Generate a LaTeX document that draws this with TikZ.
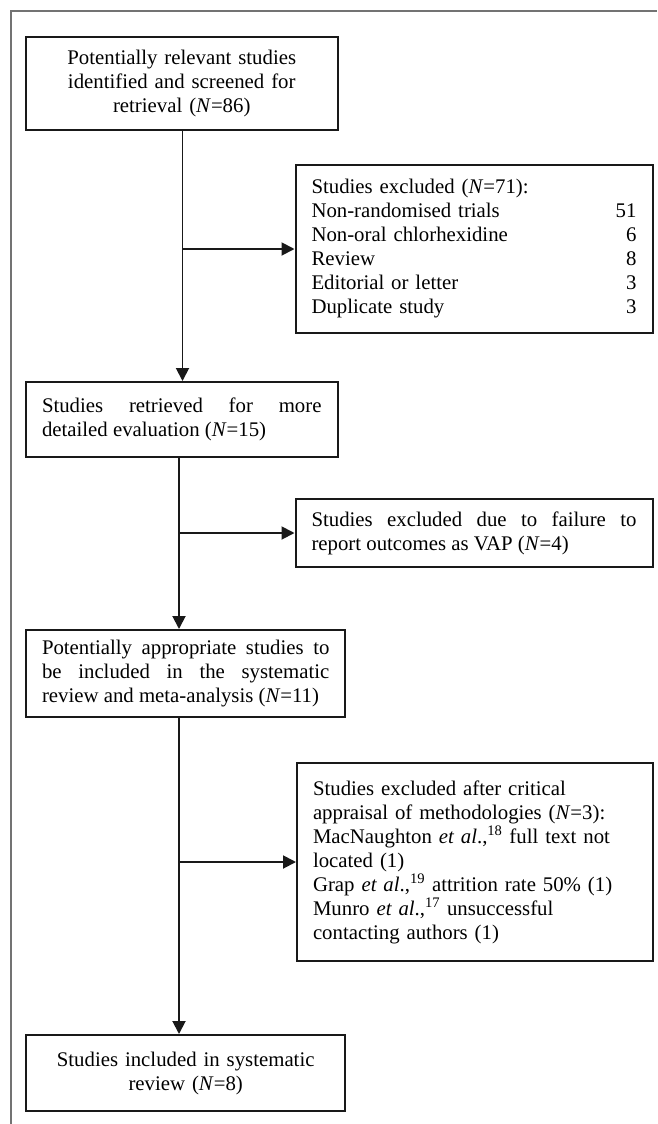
\documentclass[tikz,border=0pt]{standalone}
\usepackage{fontspec}
\setmainfont{Liberation Serif}
\usetikzlibrary{arrows.meta}
\begin{document}
\begin{tikzpicture}[x=1pt,y=-1pt,
  box/.style={draw=black!90, line width=2pt, inner xsep=16pt, inner ysep=4pt,
    anchor=north west, font=\fontsize{20.8}{24}\selectfont},
  conn/.style={line width=1.9pt, black!90, -{Triangle[length=13pt,width=13pt]}},
  frame/.style={draw=black!55, line width=1.2pt}]
\useasboundingbox (0,0) rectangle (657,1124);
\draw[frame] (11,1124) -- (11,11) -- (657,11);

\node[box, text width=279.5pt, minimum height=93pt, align=center] (b1) at (25,36)
  {Potentially relevant studies identified and screened for\\ retrieval (\textit{N}=86)};
\node[box, text width=325pt, minimum height=168pt, align=left] (e1) at (294.5,164)
  {Studies excluded (\textit{N}=71):\\
   Non-randomised trials\hfill 51\hspace{8pt}\\
   Non-oral chlorhexidine\hfill 6\hspace{8pt}\\
   Review\hfill 8\hspace{8pt}\\
   Editorial or letter\hfill 3\hspace{8pt}\\
   Duplicate study\hfill 3\hspace{8pt}};
\node[box, text width=279.5pt, minimum height=75pt, align=justify] (b2) at (25,381)
  {Studies retrieved for more\linebreak detailed evaluation (\textit{N}=15)};
\node[box, text width=325pt, minimum height=68pt, align=justify] (e2) at (294.5,498)
  {Studies excluded due to failure to\linebreak report outcomes as VAP (\textit{N}=4)};
\node[box, text width=287.4pt, minimum height=87pt, align=justify] (b3) at (25,629)
  {Potentially appropriate studies to\linebreak be included in the systematic\linebreak review and meta-analysis (\textit{N}=11)};
\node[box, text width=323.5pt, minimum height=198pt, align=left] (e3) at (296,762)
  {Studies excluded after critical\\
   appraisal of methodologies (\textit{N}=3):\\
   MacNaughton \textit{et al}.,\textsuperscript{18} full text not\\
   located (1)\\
   Grap \textit{et al}.,\textsuperscript{19} attrition rate 50\% (1)\\
   Munro \textit{et al}.,\textsuperscript{17} unsuccessful\\
   contacting authors (1)};
\node[box, text width=287.4pt, minimum height=76pt, align=center] (b4) at (25,1034)
  {Studies included in systematic\\ review (\textit{N}=8)};

\coordinate (v1) at (182.5,0);
\coordinate (v2) at (179,0);
\coordinate (v3) at (179,0);
\draw[conn] (b1.south -| v1) -- (b2.north -| v1);
\draw[conn] (v1 |- e1.west) -- (e1.west);
\draw[conn] (b2.south -| v2) -- (b3.north -| v2);
\draw[conn] (v2 |- e2.west) -- (e2.west);
\draw[conn] (b3.south -| v3) -- (b4.north -| v3);
\draw[conn] (v3 |- e3.west) -- (e3.west);
\end{tikzpicture}
\end{document}
